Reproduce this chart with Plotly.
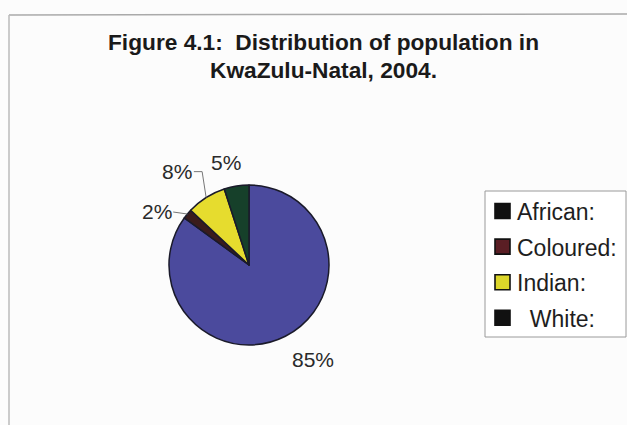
import math
import plotly.graph_objects as go

groups = ["African:", "Coloured:", "Indian:", "White:"]
shares = [85, 2, 8, 5]
slice_colors = ["#4b4a9d", "#3a1c1c", "#e6dc2e", "#16402a"]
legend_colors = ["#111111", "#5a1e24", "#dcd62a", "#111111"]
legend_text = ["African:", "Coloured:", "Indian:", " White:"]
title_lines = ["Figure 4.1:  Distribution of population in", "KwaZulu-Natal, 2004."]

W, H = 627, 425
cx, cy, r = 249, 265, 80
FONT = "Liberation Sans, Arial, Helvetica"

def px(x):
    return x / W

def py(y):
    return 1 - y / H

fig = go.Figure()
fig.add_trace(go.Pie(
    labels=groups, values=shares, sort=False, direction="clockwise", rotation=0,
    marker=dict(colors=slice_colors, line=dict(color="#1a1a2a", width=1.5)),
    textinfo="none",
    domain=dict(x=[px(cx - r), px(cx + r)], y=[py(cy + r), py(cy - r)]),
    showlegend=False, hoverinfo="label+percent",
))

# label style per slice: (distance from centre, angle nudge, leader type)
label_style = [(114, -7, None), (106, -9.6, "straight"), (118, -5.3, "elbow"), (105, -3.7, None)]
total = sum(shares)
cum = 0
annotations = []
shapes = []
for v, (dist, nudge, lead) in zip(shares, label_style):
    mid = (cum + v / 2) / total * 360
    cum += v
    a = math.radians(mid + nudge)
    lx, ly = cx + dist * math.sin(a), cy - dist * math.cos(a)
    am = math.radians(mid)
    ex, ey = cx + r * math.sin(am), cy - r * math.cos(am)
    if lead == "straight":
        shapes.append(dict(type="line", xref="paper", yref="paper",
                           x0=px(lx + 16), y0=py(ly), x1=px(ex), y1=py(ey),
                           line=dict(color="#777777", width=1)))
    elif lead == "elbow":
        path = (f"M {px(lx + 17)},{py(ly)} L {px(ex - 4)},{py(ly)} "
                f"L {px(ex)},{py(ey)}")
        shapes.append(dict(type="path", xref="paper", yref="paper", path=path,
                           line=dict(color="#777777", width=1)))
    annotations.append(dict(
        x=px(lx), y=py(ly), xref="paper", yref="paper", showarrow=False,
        text=f"{v}%", xanchor="center", yanchor="middle",
        font=dict(family=FONT, size=21, color="#2a2a2a")))

# title (two lines)
for t, yc in zip(title_lines, [42, 70]):
    annotations.append(dict(x=px(323), y=py(yc), xref="paper", yref="paper", showarrow=False,
                            text=f"<b>{t.replace('  ', ' &nbsp;')}</b>",
                            xanchor="center", yanchor="middle",
                            font=dict(family=FONT, size=22.7, color="#1a1a1a")))

# frame and legend box drawn by hand (legend swatch colours differ from slices)
shapes += [
    dict(type="line", xref="paper", yref="paper", x0=px(9), x1=1, y0=py(15), y1=py(14),
         line=dict(color="#aaaaaa", width=1.5)),
    dict(type="line", xref="paper", yref="paper", x0=px(9), x1=px(9), y0=0, y1=py(15),
         line=dict(color="#bbbbbb", width=1.5)),
    dict(type="rect", xref="paper", yref="paper", x0=px(485), x1=px(626), y0=py(337), y1=py(191),
         line=dict(color="#9a9a9a", width=1), fillcolor="#ffffff", layer="below"),
]
for i, (t, c) in enumerate(zip(legend_text, legend_colors)):
    yc = 211 + i * 35.6
    shapes.append(dict(type="rect", xref="paper", yref="paper",
                       x0=px(495), x1=px(510), y0=py(yc + 7.5), y1=py(yc - 7.5),
                       fillcolor=c, line=dict(color="#111111", width=1.6)))
    annotations.append(dict(x=px(515), y=py(yc + 1), xref="paper", yref="paper", showarrow=False,
                            text=t.replace(" ", "&nbsp;&nbsp;"), xanchor="left", yanchor="middle",
                            font=dict(family=FONT, size=23, color="#1e1e1e")))

fig.update_layout(
    width=W, height=H, margin=dict(l=0, r=0, t=0, b=0),
    paper_bgcolor="#fcfcfc", plot_bgcolor="#fcfcfc",
    annotations=annotations, shapes=shapes,
)
fig.write_html("out.html")
